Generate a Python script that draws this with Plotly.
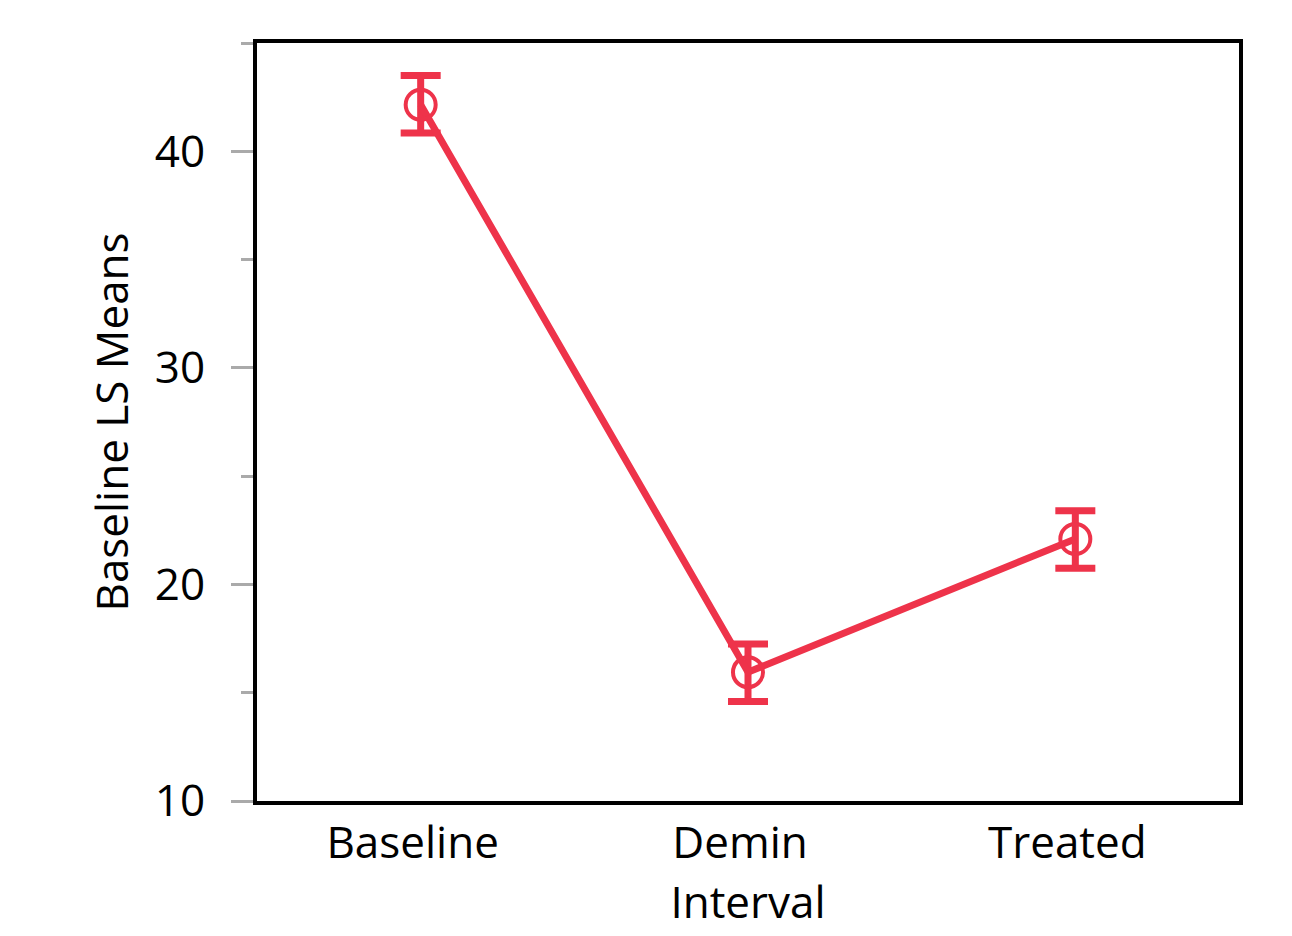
import plotly.graph_objects as go

categories = ["Baseline", "Demin", "Treated"]
means = [42.15, 15.95, 22.1]
err_upper = [1.35, 1.3, 1.3]
err_lower = [1.3, 1.35, 1.35]
y_ticks = [10, 20, 30, 40]

color = "#EE334A"

fig = go.Figure()
fig.add_trace(go.Scatter(
    x=categories, y=means, mode="lines+markers",
    line=dict(color=color, width=7),
    marker=dict(symbol="circle-open", size=30, color=color, line=dict(width=4, color=color)),
    error_y=dict(type="data", symmetric=False, array=err_upper, arrayminus=err_lower,
                 color=color, thickness=7, width=20),
    showlegend=False,
))

font = "Open Sans"
fs = 44
fig.update_layout(
    width=1292, height=936,
    margin=dict(l=257, r=53, t=43, b=135),
    plot_bgcolor="white", paper_bgcolor="white",
    font=dict(family=font, size=fs, color="black"),
)
fig.update_xaxes(
    range=[-0.5, 2.5], showline=True, linecolor="black", linewidth=4, mirror=True,
    showgrid=False, ticks="", tickfont=dict(size=fs), ticklabelstandoff=0, ticklabelshift=-8,
    title=dict(text="Interval", font=dict(size=fs), standoff=18),
)
fig.update_yaxes(
    range=[10, 45], tickvals=y_ticks, showline=True, linecolor="black", linewidth=4, mirror=True,
    showgrid=False, zeroline=False, ticks="outside", ticklen=22, tickwidth=3, tickcolor="#aaaaaa",
    minor=dict(dtick=5, ticks="outside", ticklen=12, tickwidth=3, tickcolor="#aaaaaa", showgrid=False),
    tickfont=dict(size=fs), ticklabelstandoff=17,
    title=dict(text="Baseline LS Means", font=dict(size=fs), standoff=13),
)

fig.write_html("out.html")
